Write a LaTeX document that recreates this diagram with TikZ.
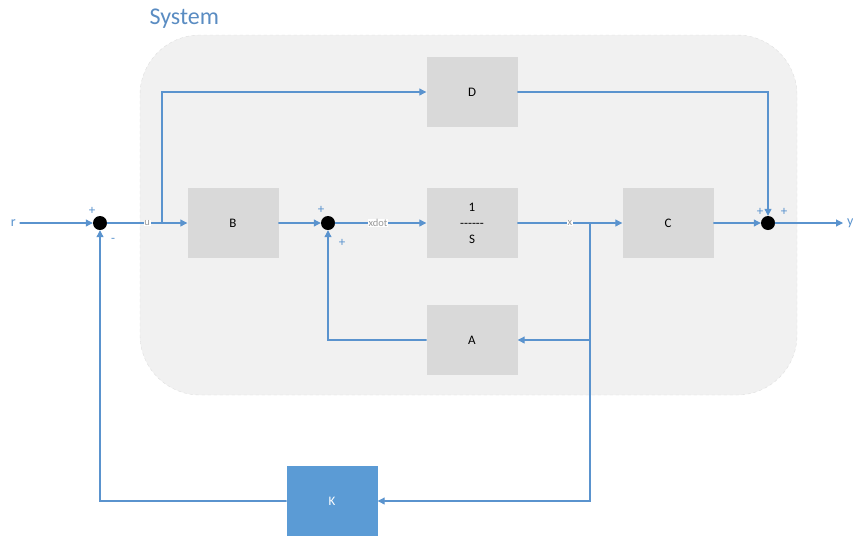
\documentclass[tikz,border=0pt]{standalone}
\usepackage{fontspec}
\setmainfont{Carlito}
\usetikzlibrary{arrows.meta, positioning}
\definecolor{wire}{HTML}{5A93CE}
\definecolor{kfill}{HTML}{5B9BD5}
\definecolor{sysfill}{HTML}{F1F1F1}
\definecolor{blockfill}{HTML}{D9D9D9}
\definecolor{systext}{HTML}{5A8CC2}

\tikzset{
  block/.style={fill=blockfill, minimum width=91pt, minimum height=70pt, inner sep=0pt, font=\fontsize{13}{15}\selectfont},
  gainblock/.style={block, fill=kfill, text=white},
  sumdot/.style={circle, fill=black, minimum size=14pt, inner sep=0pt},
  wirelbl/.style={fill=white, inner sep=0.6pt, text=gray!80, font=\fontsize{10.5}{11}\selectfont},
  sign/.style={text=wire, inner sep=0pt, font=\fontsize{13}{13}\selectfont},
  iolbl/.style={text=wire, inner sep=4pt, font=\fontsize{14}{14}\selectfont},
}

\begin{document}
\begin{tikzpicture}[x=1pt,y=-1pt,line cap=round,
  >={Triangle[width=7pt,length=7pt]}]
  \useasboundingbox (0,0) rectangle (853,536);

  % system area
  \filldraw[fill=sysfill, draw=gray!25, dashed, rounded corners=60pt] (140,35) rectangle (797,395);
  \node[text=systext, font=\fontsize{24}{26}\selectfont, anchor=west] (sys) at (146,19) {System};

  % blocks
  \node[block] (D) at (472,92) {D};
  \node[block] (B) at (233,223) {B};
  \node[block, align=center] (I) at (472,223) {1\\[1pt]{-}{-}{-}{-}{-}{-}\\[1pt]S};
  \node[block] (C) at (668,223) {C};
  \node[block] (A) at (472,340) {A};
  \node[gainblock] (K) at (332,501) {K};

  % summing points
  \node[sumdot] (s1) at (100,223) {};
  \node[sumdot] (s2) at (328,223) {};
  \node[sumdot] (s3) at (768,223) {};

  \node[sign] (s1p) at (92,211) {+};
  \node[sign] (s1m) at (113,240) {-};
  \node[sign] (s2p) at (321,210) {+};
  \node[sign] (s2q) at (342,243) {+};
  \node[sign] (s3p) at (760,212) {+};
  \node[sign] (s3q) at (784,212) {+};

  % in and out
  \node[iolbl, anchor=east] (r) at (20,223) {r};
  \node[iolbl, anchor=west] (y) at (843,223) {y};

  \coordinate (uD) at (162,223);
  \coordinate (xb) at (590,223);

  % connectors
  \begin{scope}[wire, line width=1.1pt]
    \draw[->] (r) -- (s1);
    \draw[->] (s1) -- node[wirelbl, pos=0.5] {u} (B);
    \draw[->] (uD) |- (D);
    \draw[->] (B) -- (s2);
    \draw[->] (s2) -- node[wirelbl, pos=0.47] {xdot} (I);
    \draw[->] (I) -- node[wirelbl, pos=0.5] {x} (C);
    \draw[->] (xb) |- (A);
    \draw[->] (xb) |- (K);
    \draw[->] (A) -| (s2);
    \draw[->] (K) -| (s1);
    \draw[->] (D) -| (s3);
    \draw[->] (C) -- (s3);
    \draw[->] (s3) -- (y);
  \end{scope}
\end{tikzpicture}
\end{document}
